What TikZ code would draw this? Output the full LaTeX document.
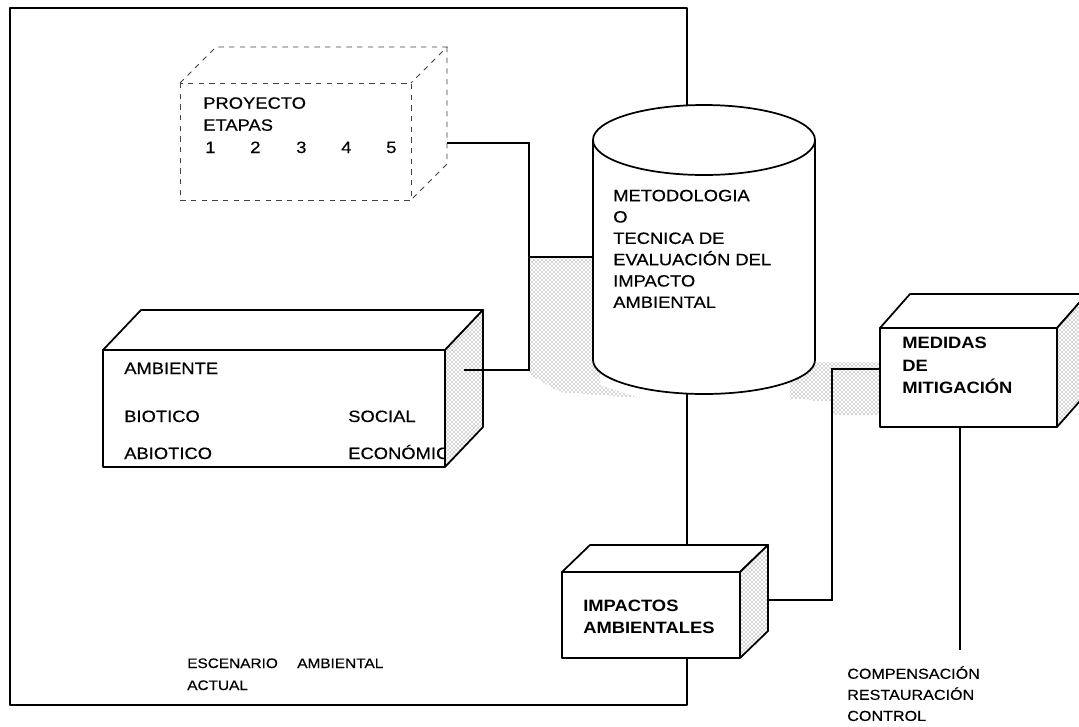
\documentclass[tikz,border=0pt]{standalone}
\usepackage{fontspec}
\setmainfont{Liberation Sans}[FakeStretch=1.12, UprightFeatures={FakeBold=0.4}]
\usetikzlibrary{patterns}

\tikzset{
  txt/.style={inner sep=0pt, anchor=base west, font=\fontsize{12.3}{16}\selectfont},
  bloc/.style={inner sep=0pt, anchor=north west, align=left, font=\fontsize{12.3}{16}\selectfont},
  small/.style={font=\fontsize{10.3}{16}\selectfont},
  boxline/.style={line width=1.3pt, line join=round},
  link/.style={line width=1pt},
  speck/.style={pattern=crosshatch dots, pattern color=black!70},
  faint/.style={line width=0.6pt, black!75, dash pattern=on 4pt off 4pt},
}

\begin{document}
\begin{tikzpicture}[x=0.75pt, y=-0.75pt]
  \useasboundingbox (0,0) rectangle (1079,726);
  \clip (0,0) rectangle (1079,726);
  % marco del escenario
  \draw[boxline] (10,8) rectangle (687,705);
  % sombras
  \fill[speck] (529,257) -- (600,257) -- (600,385) -- (640,398) -- (560,392) -- (529,374) -- cycle;
  \fill[speck] (790,362) -- (880,362) -- (880,415) -- (832,415) -- (832,402) -- (790,398) -- cycle;
  % proyecto
  \draw[faint] (180,83) rectangle (411,200);
  \draw[faint] (180,83) -- (216,47) -- (447,47) -- (411,83);
  \draw[faint] (447,47) -- (447,164) -- (411,200);
  \node[bloc, font=\fontsize{12.3}{16.5}\selectfont] (proy) at (203,97) {PROYECTO\\ETAPAS};
  \foreach \n/\x in {1/205,2/250,3/296,4/341,5/386}
    \node[txt] (et\n) at (\x,153) {\n};
  % ambiente
  \filldraw[boxline, fill=white] (103,350) -- (141,310) -- (483,310) -- (445,350) -- cycle;
  \filldraw[boxline, fill=white] (103,350) rectangle (445,467);
  \node[txt] (amb) at (124,374) {AMBIENTE};
  \node[txt] (bio) at (124,422) {BIOTICO};
  \node[txt] (abio) at (124,459) {ABIOTICO};
  \node[txt] (soc) at (348,422) {SOCIAL};
  \node[txt] (eco) at (348,459) {ECONÓMIC};
  \fill[white] (445,350) -- (483,310) -- (483,427) -- (445,467) -- cycle;
  \filldraw[boxline, speck] (445,350) -- (483,310) -- (483,427) -- (445,467) -- cycle;
  % metodologia
  \filldraw[boxline, fill=white] (593,140) -- (593,360)
    arc[start angle=180, end angle=360, x radius=83.25pt, y radius=25.5pt] -- (815,140)
    arc[start angle=0, end angle=180, x radius=83.25pt, y radius=26.25pt] -- cycle;
  \draw[boxline] (593,140) arc[start angle=180, end angle=360, x radius=83.25pt, y radius=26.25pt];
  \node[bloc] (met) at (613,189.5) {METODOLOGIA\\O\\TECNICA DE\\EVALUACIÓN DEL\\IMPACTO\\AMBIENTAL};
  % impactos
  \filldraw[boxline, fill=white] (562,572) -- (590,545) -- (768,545) -- (740,572) -- cycle;
  \filldraw[boxline, fill=white] (562,572) rectangle (740,658);
  \fill[white] (740,572) -- (768,545) -- (768,631) -- (740,658) -- cycle;
  \filldraw[boxline, speck] (740,572) -- (768,545) -- (768,631) -- (740,658) -- cycle;
  \node[bloc, font=\fontsize{12.3}{16.5}\selectfont\bfseries] (imp) at (583,600) {IMPACTOS\\AMBIENTALES};
  % medidas
  \filldraw[boxline, fill=white] (880,328) -- (910,294) -- (1087,294) -- (1057,328) -- cycle;
  \filldraw[boxline, fill=white] (880,328) rectangle (1057,427);
  \fill[white] (1057,328) -- (1087,294) -- (1087,393) -- (1057,427) -- cycle;
  \filldraw[boxline, speck] (1057,328) -- (1087,294) -- (1087,393) -- (1057,427) -- cycle;
  \node[bloc, font=\fontsize{12.3}{16.9}\selectfont\bfseries] (med) at (902,337) {MEDIDAS\\DE\\MITIGACIÓN};
  % escenario
  \node[txt, small] (esc) at (187,668) {ESCENARIO};
  \node[txt, small] (escamb) at (297,668) {AMBIENTAL};
  \node[txt, small] (act) at (187,690) {ACTUAL};
  % conexiones
  \coordinate (proyR) at (447,143);
  \coordinate (jL) at (529,370);
  \coordinate (ambR) at (464,370);
  \coordinate (cylL) at (593,257);
  \coordinate (impR) at (768,600);
  \coordinate (jR) at (832,369);
  \coordinate (medL) at (880,369);
  \coordinate (medB) at (960,427);
  \coordinate (medE) at (960,650);
  \draw[link] (proyR) -| (jL) -- (ambR);
  \draw[link] (jL |- cylL) -- (cylL);
  \draw[link] (impR) -| (jR) -- (medL);
  \draw[link] (medB) -- (medE);
  \node[bloc, small, font=\fontsize{10.8}{15.8}\selectfont] (comp) at (847,666) {COMPENSACIÓN\\RESTAURACIÓN\\CONTROL};
\end{tikzpicture}
\end{document}
